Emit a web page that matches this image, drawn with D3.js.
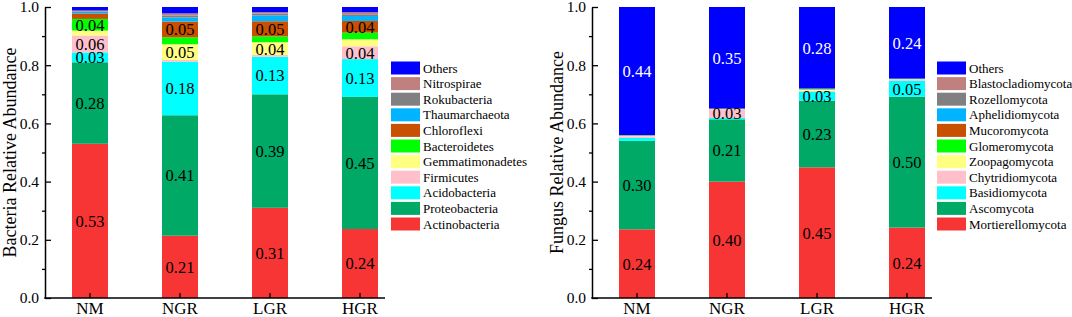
<!DOCTYPE html>
<html>
<head>
<meta charset="utf-8">
<script src="https://cdn.jsdelivr.net/npm/d3@7"></script>
<style>
  body { margin: 0; background: #fff; }
  svg { display: block; }
</style>
</head>
<body>
<svg id="chart" width="1072" height="317"></svg>
<script>
// Groups along the x axis.
const groups = ["NM", "NGR", "LGR", "HGR"];

// Bacteria, stacked from bottom to top.
const bacteriaTaxa = ["Actinobacteria", "Proteobacteria", "Acidobacteria", "Firmicutes",
  "Gemmatimonadetes", "Bacteroidetes", "Chloroflexi", "Thaumarchaeota", "Rokubacteria",
  "Nitrospirae", "Others"];
const bacteriaNM  = [0.530, 0.280, 0.034, 0.058, 0.017, 0.040, 0.019, 0.005, 0.002, 0.003, 0.012];
const bacteriaNGR = [0.214, 0.414, 0.184, 0.006, 0.054, 0.024, 0.054, 0.014, 0.007, 0.007, 0.022];
const bacteriaLGR = [0.310, 0.390, 0.129, 0.006, 0.044, 0.020, 0.052, 0.020, 0.006, 0.005, 0.018];
const bacteriaHGR = [0.237, 0.454, 0.130, 0.044, 0.024, 0.023, 0.040, 0.017, 0.006, 0.007, 0.018];
// Printed labels on the segments ("" = none).
const bacteriaTextNM  = ["0.53", "0.28", "0.03", "0.06", "", "0.04", "", "", "", "", ""];
const bacteriaTextNGR = ["0.21", "0.41", "0.18", "", "0.05", "", "0.05", "", "", "", ""];
const bacteriaTextLGR = ["0.31", "0.39", "0.13", "", "0.04", "", "0.05", "", "", "", ""];
const bacteriaTextHGR = ["0.24", "0.45", "0.13", "0.04", "", "", "0.04", "", "", "", ""];

// Fungi, stacked from bottom to top.
const fungusTaxa = ["Mortierellomycota", "Ascomycota", "Basidiomycota", "Chytridiomycota",
  "Zoopagomycota", "Glomeromycota", "Mucoromycota", "Aphelidiomycota", "Rozellomycota",
  "Blastocladiomycota", "Others"];
const fungusNM  = [0.236, 0.304, 0.010, 0.006, 0.001, 0.001, 0.001, 0.0005, 0.0005, 0, 0.440];
const fungusNGR = [0.400, 0.214, 0.005, 0.030, 0.001, 0.001, 0, 0, 0, 0, 0.349];
const fungusLGR = [0.449, 0.229, 0.031, 0.003, 0.004, 0.002, 0.001, 0.001, 0, 0, 0.280];
const fungusHGR = [0.242, 0.450, 0.054, 0.005, 0.001, 0.001, 0, 0.001, 0, 0, 0.246];
const fungusTextNM  = ["0.24", "0.30", "", "", "", "", "", "", "", "", "0.44"];
const fungusTextNGR = ["0.40", "0.21", "", "0.03", "", "", "", "", "", "", "0.35"];
const fungusTextLGR = ["0.45", "0.23", "0.03", "", "", "", "", "", "", "", "0.28"];
const fungusTextHGR = ["0.24", "0.50", "0.05", "", "", "", "", "", "", "", "0.24"];

// Shared colour order (bottom to top).
const colors = ["#F83535", "#00AA66", "#00FFFF", "#FFC0CB", "#FFFF80", "#00FF00",
  "#C85000", "#00B4FF", "#808080", "#C08080", "#0000FF"];

const yTicks = [0, 0.2, 0.4, 0.6, 0.8, 1.0];
const yMinorTicks = [0.1, 0.3, 0.5, 0.7, 0.9];

const serif = '"Liberation Serif", "Times New Roman", serif';
const svg = d3.select("#chart").attr("font-family", serif);

function drawPanel(opt) {
  const top = 7, bottom = 298;
  const x0 = opt.x0;
  // Rows for d3.stack: one per group.
  const rows = groups.map((g, i) => {
    const row = { group: g };
    opt.taxa.forEach((t, k) => { row[t] = opt.values[i][k]; });
    return row;
  });
  const series = d3.stack().keys(opt.taxa)(rows);

  const x = d3.scaleBand().domain(groups).range([x0, x0 + 360])
    .paddingInner(0.6).paddingOuter(0.3);
  const y = d3.scaleLinear().domain([0, 1]).range([bottom, top]);
  const color = d3.scaleOrdinal().domain(opt.taxa).range(colors);

  const g = svg.append("g");

  // Stacked bars.
  g.selectAll("g.layer")
    .data(series)
    .join("g")
    .attr("class", "layer")
    .attr("fill", d => color(d.key))
    .selectAll("rect")
    .data(d => d)
    .join("rect")
    .attr("x", d => x(d.data.group))
    .attr("y", d => y(d[1]))
    .attr("width", x.bandwidth())
    .attr("height", d => y(d[0]) - y(d[1]));

  // Segment labels.
  series.forEach((s, k) => {
    s.forEach((d, i) => {
      const txt = opt.texts[i][k];
      if (!txt) return;
      g.append("text")
        .attr("x", x(d.data.group) + x.bandwidth() / 2)
        .attr("y", (y(d[0]) + y(d[1])) / 2)
        .attr("dy", "0.36em")
        .attr("text-anchor", "middle")
        .attr("font-size", 16.5)
        .attr("fill", opt.whiteKey === s.key ? "#fff" : "#000")
        .text(txt);
    });
  });

  // Y axis: major ticks inward, minor ticks outward.
  const yAxis = g.append("g")
    .attr("transform", `translate(${x0},0)`)
    .call(d3.axisLeft(y).tickValues(yTicks).tickFormat(d3.format(".1f"))
      .tickSize(-6).tickSizeOuter(0).tickPadding(6))
    .attr("font-family", serif)
    .attr("font-size", 15.5);
  yAxis.selectAll("text").attr("fill", "#000");
  yAxis.selectAll("line").attr("stroke-width", 1.3);
  yAxis.select(".domain").attr("stroke-width", 1.5);
  g.append("g")
    .attr("transform", `translate(${x0},0)`)
    .call(d3.axisLeft(y).tickValues(yMinorTicks).tickFormat("").tickSize(3).tickSizeOuter(0))
    .call(a => a.select(".domain").remove())
    .selectAll("line").attr("stroke-width", 1.3);

  // X axis with inward ticks.
  const xAxis = g.append("g")
    .attr("transform", `translate(0,${bottom})`)
    .call(d3.axisBottom(x).tickSize(-5).tickSizeOuter(0).tickPadding(4))
    .attr("font-family", serif)
    .attr("font-size", 17);
  xAxis.select(".domain").attr("d", `M${x0 - 0.75},0H${x0 + 340}`).attr("stroke-width", 1.5);
  xAxis.selectAll("line").attr("stroke-width", 1.3);
  xAxis.selectAll("text").attr("fill", "#000");

  // Axis title.
  g.append("text")
    .attr("transform", `translate(${opt.titleX},${(top + bottom) / 2}) rotate(-90)`)
    .attr("text-anchor", "middle")
    .attr("font-size", 18)
    .text(opt.title);

  // Legend, top entry = last stacked layer.
  const legend = g.append("g")
    .attr("transform", `translate(${opt.legendX},61.5)`);
  const items = opt.taxa.slice().reverse();
  legend.selectAll("rect")
    .data(items)
    .join("rect")
    .attr("x", 0)
    .attr("y", (d, i) => i * 15.6)
    .attr("width", 29)
    .attr("height", 13)
    .attr("fill", d => color(d));
  legend.selectAll("text")
    .data(items)
    .join("text")
    .attr("x", 32)
    .attr("y", (d, i) => i * 15.6 + 6.5)
    .attr("dy", "0.35em")
    .attr("font-size", 13)
    .text(d => d);
}

drawPanel({
  x0: 45,
  taxa: bacteriaTaxa,
  values: [bacteriaNM, bacteriaNGR, bacteriaLGR, bacteriaHGR],
  texts: [bacteriaTextNM, bacteriaTextNGR, bacteriaTextLGR, bacteriaTextHGR],
  title: "Bacteria Relative Abundance",
  titleX: 16,
  legendX: 391,
  whiteKey: null
});

drawPanel({
  x0: 592,
  taxa: fungusTaxa,
  values: [fungusNM, fungusNGR, fungusLGR, fungusHGR],
  texts: [fungusTextNM, fungusTextNGR, fungusTextLGR, fungusTextHGR],
  title: "Fungus Relative Abundance",
  titleX: 563,
  legendX: 937,
  whiteKey: "Others"
});
</script>
</body>
</html>
